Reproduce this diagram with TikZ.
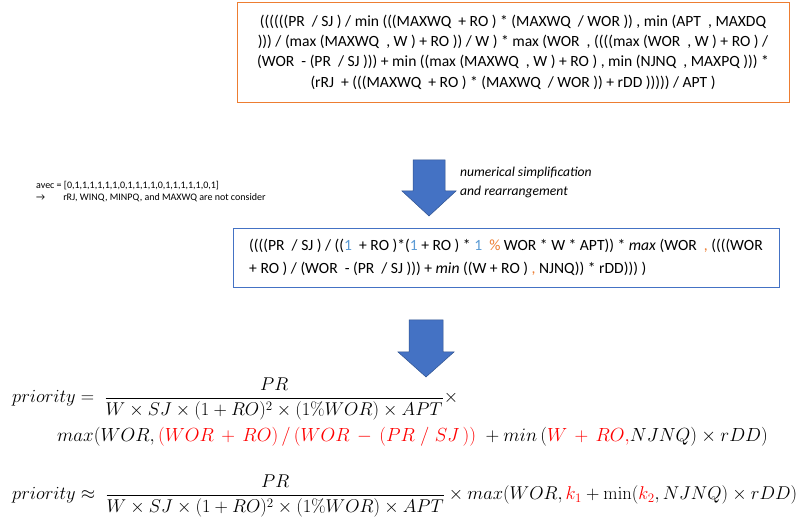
\RequirePackage{fix-cm}
\documentclass[tikz,border=0pt]{standalone}
\usepackage[no-math]{fontspec}
\setmainfont{Carlito}
\usepackage{amsmath}
\definecolor{orangeb}{HTML}{ED7D31}
\definecolor{blueb}{HTML}{4472C4}
\definecolor{bluedig}{HTML}{5B9BD5}
\definecolor{arrowline}{HTML}{2F528F}
\definecolor{eqred}{HTML}{FF0000}
\tikzset{
  exprbox/.style={line width=0.9pt, inner sep=4pt},
  bigarrow/.style={fill=blueb, draw=arrowline, line width=0.5pt},
  eqtext/.style={inner sep=0pt, anchor=west, font=\fontsize{18.5}{22}\selectfont},
}
\newcommand{\dg}[1]{\textcolor{bluedig}{#1}}
\newcommand{\og}[1]{\textcolor{orangeb}{#1}}
\newcommand{\rd}[1]{\textcolor{eqred}{#1}}
\begin{document}
\begin{tikzpicture}[x=1pt,y=-1pt]
\path[use as bounding box, fill=white] (0,0) rectangle (806,526);

\node[exprbox, draw=orangeb, minimum width=552pt, minimum height=100pt, align=center,
      font=\fontsize{15.6}{20.4}\selectfont] (orig) at (513,52)
  {((((((PR~ / SJ ) / min (((MAXWQ~ + RO ) * (MAXWQ~ / WOR )) , min (APT~ , MAXDQ\\
   ))) / (max (MAXWQ~ , W ) + RO )) / W ) * max (WOR~ , ((((max (WOR~ , W ) + RO ) /\\
   (WOR~ - (PR~ / SJ ))) + min ((max (MAXWQ~ , W ) + RO ) , min (NJNQ~ , MAXPQ ))) *\\
   (rRJ~ + (((MAXWQ~ + RO ) * (MAXWQ~ / WOR )) + rDD ))))) / APT )};

\node[inner sep=0pt, anchor=north west, align=left, font=\fontsize{10}{12}\selectfont] (avec) at (36,181)
  {avec = [0,1,1,1,1,1,1,0,1,1,1,1,0,1,1,1,1,1,0,1]\\
   →\hspace{1.8em}rRJ, WINQ, MINPQ, and MAXWQ are not consider};

\draw[bigarrow] (413,160) -- (445,160) -- (445,191) -- (456,191) -- (429,216) -- (402,191) -- (413,191) -- cycle;

\node[inner sep=0pt, anchor=north west, align=left, font=\fontsize{13.6}{19}\selectfont\itshape] (note) at (460,167)
  {numerical simplification\\and rearrangement};

\node[exprbox, draw=blueb, minimum width=546pt, minimum height=59pt, align=left,
      font=\fontsize{15.6}{23}\selectfont] (simp) at (506,257.5)
  {((((PR~ / SJ ) / ((\dg{1}~ + RO )*(\dg{1} + RO ) * \dg{1}~ \og{\%} WOR * W * APT)) * \textit{max} (WOR~ \og{,} ((((WOR\\
   + RO ) / (WOR~ - (PR~ / SJ ))) + \textit{min} ((W + RO ) \og{,} NJNQ)) * rDD))) )};

\draw[bigarrow] (409,320) -- (443,320) -- (443,352) -- (454,352) -- (426,377) -- (398,352) -- (409,352) -- cycle;

\node[eqtext] (eq1a) at (12,399)
  {$priority = \;\dfrac{PR}{W\times SJ\times(1+RO)^2\times(1\%WOR)\times APT}\times$};
\node[eqtext, font=\fontsize{19}{22}\selectfont] (eq1b) at (57,437)
  {$max(WOR,\rd{(WOR\,+\,RO)\,/\,(WOR\,-\,(PR\;/\;SJ\,))}\;+min\,(\rd{W\,+\,RO,}NJNQ)\times rDD)$};
\node[eqtext] (eq2) at (12,496)
  {$priority \approx \;\dfrac{PR}{W\times SJ\times(1+RO)^2\times(1\%WOR)\times APT}\times max(WOR,\rd{k_1}+\min(\rd{k_2},NJNQ)\times rDD)$};
\end{tikzpicture}
\end{document}
